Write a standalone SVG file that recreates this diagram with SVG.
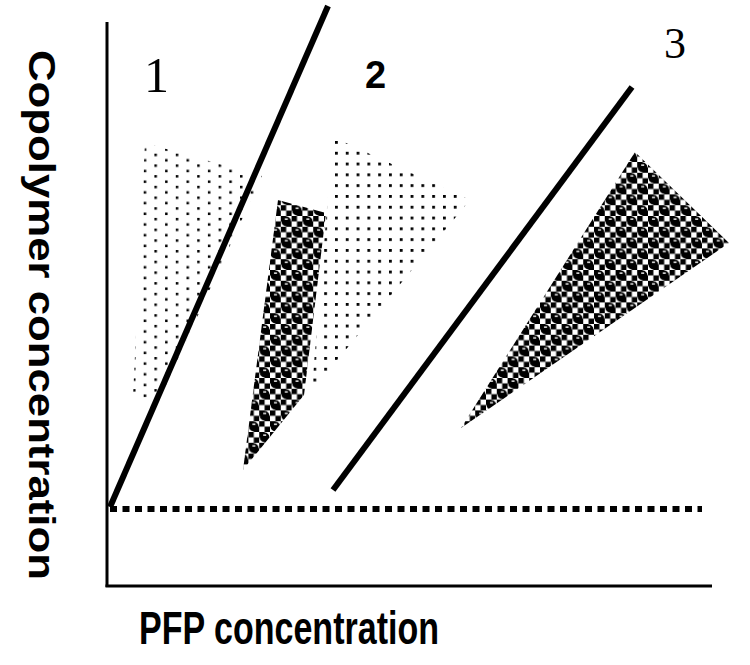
<svg xmlns="http://www.w3.org/2000/svg" width="750" height="665" viewBox="0 0 750 665">
<defs>
<pattern id="dots" patternUnits="userSpaceOnUse" width="21.4" height="10.7" x="133" y="143">
<rect x="0" y="0" width="2.5" height="2.5" fill="#000"/>
<rect x="10.7" y="5.35" width="2.5" height="2.5" fill="#000"/>
</pattern>
<pattern id="dots2" patternUnits="userSpaceOnUse" width="10.8" height="10.8" x="335" y="141">
<rect x="0" y="0" width="2.8" height="2.8" fill="#000"/>
</pattern>
<pattern id="balls" patternUnits="userSpaceOnUse" width="21.6" height="21.6">
<rect width="21.6" height="21.6" fill="#fff"/>
<path d="M0 0h5.4v5.4H0zM10.8 0h5.4v5.4h-5.4zM5.4 5.4h5.4v5.4H5.4zM16.2 5.4h5.4v5.4h-5.4zM0 10.8h5.4v5.4H0zM10.8 10.8h5.4v5.4h-5.4zM5.4 16.2h5.4v5.4H5.4zM16.2 16.2h5.4v5.4h-5.4z" fill="#000"/>
<circle cx="5.4" cy="5.4" r="4.8" fill="#000"/>
<circle cx="16.2" cy="16.2" r="4.8" fill="#000"/>
<rect x="4" y="2.4" width="3" height="1.4" fill="#fff"/>
<rect x="14.8" y="13.2" width="3" height="1.4" fill="#fff"/>
</pattern>
<style>
.ln{stroke:#000;stroke-width:6;fill:none;stroke-linecap:butt}
.ax{stroke:#000;stroke-width:3;fill:none}
.lab{font-family:"Liberation Sans",Arial,sans-serif;font-weight:bold;fill:#000}
.num{font-family:"Liberation Serif","Times New Roman",serif;fill:#000}
</style>
</defs>
<rect width="750" height="665" fill="#fff"/>
<g id="region1-dots"><polygon points="145,143 262,176 160,398 133,398" fill="url(#dots)"/></g>
<g id="region2-dots"><polygon points="333,137 470,200 314,388 312,388" fill="url(#dots2)"/></g>
<g id="region1-balls"><polygon points="278,200 326,213 304,395 243,470" fill="url(#balls)"/></g>
<g id="region3-balls"><polygon points="635,152 729,243 461,428" fill="url(#balls)"/></g>
<g id="connectors">
<line class="ax" x1="107" y1="22" x2="107" y2="587"/>
<line class="ax" x1="105.5" y1="586" x2="712" y2="586"/>
<line class="ln" x1="110" y1="509" x2="702" y2="509" stroke-dasharray="7 5.5"/>
<line class="ln" x1="110" y1="507" x2="328" y2="6"/>
<line class="ln" x1="333" y1="490" x2="632" y2="87"/>
</g>
<g id="label1"><text class="num" x="144" y="92" font-size="50">1</text></g>
<g id="label2"><text class="lab" x="365" y="88" font-size="38">2</text></g>
<g id="label3"><text class="num" x="664" y="58" font-size="44">3</text></g>
<g id="ylabel"><text class="lab" transform="translate(29,50) rotate(90)" font-size="37" textLength="530" lengthAdjust="spacingAndGlyphs">Copolymer concentration</text></g>
<g id="xlabel"><text class="lab" x="139" y="644" font-size="46" textLength="300" lengthAdjust="spacingAndGlyphs">PFP concentration</text></g>
</svg>
